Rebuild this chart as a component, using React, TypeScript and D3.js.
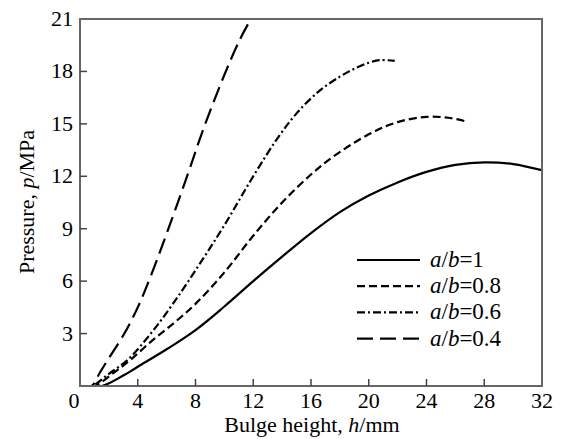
import React, { useEffect, useRef } from 'react';
import * as d3 from 'd3';

// Bulge height h (mm) and pressure p (MPa)
const h1 = [0, 1.5, 3, 4, 6, 8, 10, 12, 14, 16, 18, 20, 22, 24, 26, 28, 30, 32];
const p1 = [0, 0, 0.6, 1.1, 2.1, 3.2, 4.55, 6.0, 7.4, 8.75, 9.95, 10.9, 11.65, 12.25, 12.65, 12.8, 12.7, 12.35];

const h08 = [0, 1, 2.4, 3.5, 5, 6.5, 8, 10, 12, 14, 16, 17.5, 20, 22, 24, 25.5, 26.7];
const p08 = [0, 0, 0.8, 1.5, 2.6, 3.6, 4.7, 6.5, 8.6, 10.5, 12.1, 13.1, 14.4, 15.1, 15.4, 15.35, 15.15];

const h06 = [0, 0.8, 2, 3.3, 5, 6.6, 8.3, 10, 12, 13.7, 15, 16.6, 18, 19, 20, 20.8, 21.8];
const p06 = [0, 0, 0.7, 1.5, 3.1, 4.9, 7.0, 9.2, 12.0, 14.2, 15.6, 16.9, 17.7, 18.15, 18.5, 18.65, 18.6];

const h04 = [0, 0.8, 1.4, 2, 3, 4, 5, 6.3, 7.5, 8.5, 9.9, 11, 11.7];
const p04 = [0, 0, 0.8, 1.6, 2.9, 4.5, 6.5, 9.4, 12.2, 14.6, 17.6, 19.7, 20.8];

const seriesNames = ['a/b=1', 'a/b=0.8', 'a/b=0.6', 'a/b=0.4'];
const xTicks = [0, 4, 8, 12, 16, 20, 24, 28, 32];
const yTicks = [3, 6, 9, 12, 15, 18, 21];

const App = () => {
  const ref = useRef<SVGSVGElement | null>(null);

  useEffect(() => {
    if (!ref.current) return;
    const width = 563;
    const height = 439;
    const margin = { top: 19, right: 21, bottom: 53, left: 80 };
    const innerW = width - margin.left - margin.right;
    const innerH = height - margin.top - margin.bottom;

    const root = d3.select(ref.current);
    root.selectAll('*').remove();
    root.attr('width', width).attr('height', height);

    root.append('defs').append('clipPath').attr('id', 'plot-clip')
      .append('rect').attr('width', innerW).attr('height', innerH);

    const g = root.append('g').attr('transform', `translate(${margin.left},${margin.top})`);
    const font = 'Liberation Serif, Times New Roman, serif';

    const x = d3.scaleLinear().domain([0, 32]).range([0, innerW]);
    const y = d3.scaleLinear().domain([0, 21]).range([innerH, 0]);

    const series = [
      { name: seriesNames[0], h: h1, p: p1, dash: null },
      { name: seriesNames[1], h: h08, p: p08, dash: '8,4' },
      { name: seriesNames[2], h: h06, p: p06, dash: '8,3,2,3' },
      { name: seriesNames[3], h: h04, p: p04, dash: '16,7' },
    ];

    const line = d3.line<[number, number]>()
      .x(d => x(d[0]))
      .y(d => y(d[1]))
      .curve(d3.curveCatmullRom.alpha(0.5));

    const curves = g.append('g').attr('clip-path', 'url(#plot-clip)');
    series.forEach(s => {
      const pts = s.h.map((v, i) => [v, s.p[i]] as [number, number]);
      curves.append('path')
        .attr('d', line(pts))
        .attr('fill', 'none')
        .attr('stroke', '#000')
        .attr('stroke-width', 2.2)
        .attr('stroke-dasharray', s.dash);
    });

    // frame
    g.append('rect')
      .attr('width', innerW)
      .attr('height', innerH)
      .attr('fill', 'none')
      .attr('stroke', '#666')
      .attr('stroke-width', 2);

    // inward ticks
    xTicks.slice(1, -1).forEach(t => {
      g.append('line')
        .attr('x1', x(t)).attr('x2', x(t))
        .attr('y1', innerH).attr('y2', innerH - 7)
        .attr('stroke', '#444').attr('stroke-width', 1.5);
    });
    yTicks.slice(0, -1).forEach(t => {
      g.append('line')
        .attr('x1', 0).attr('x2', 7)
        .attr('y1', y(t)).attr('y2', y(t))
        .attr('stroke', '#444').attr('stroke-width', 1.5);
    });

    // tick labels
    xTicks.forEach(t => {
      g.append('text')
        .attr('x', x(t) + (t === 0 ? -6 : 0))
        .attr('y', innerH + 22)
        .attr('text-anchor', 'middle')
        .attr('font-family', font)
        .attr('font-size', 22)
        .text(t);
    });
    yTicks.forEach(t => {
      g.append('text')
        .attr('x', -7)
        .attr('y', y(t) + 7)
        .attr('text-anchor', 'end')
        .attr('font-family', font)
        .attr('font-size', 22)
        .text(t);
    });

    // axis titles
    const xt = root.append('text')
      .attr('x', 312)
      .attr('y', 432)
      .attr('text-anchor', 'middle')
      .attr('font-family', font)
      .attr('font-size', 22);
    xt.append('tspan').text('Bulge height, ');
    xt.append('tspan').attr('font-style', 'italic').text('h');
    xt.append('tspan').text('/mm');

    const yt = root.append('text')
      .attr('transform', `translate(34,202) rotate(-90)`)
      .attr('text-anchor', 'middle')
      .attr('font-family', font)
      .attr('font-size', 22);
    yt.append('tspan').text('Pressure, ');
    yt.append('tspan').attr('font-style', 'italic').text('p');
    yt.append('tspan').text('/MPa');

    // legend
    const legend = root.append('g');
    series.forEach((s, i) => {
      const ly = 260 + i * 26.2;
      legend.append('line')
        .attr('x1', 357).attr('x2', 420)
        .attr('y1', ly).attr('y2', ly)
        .attr('stroke', '#000')
        .attr('stroke-width', 2.2)
        .attr('stroke-dasharray', s.dash);
      const txt = legend.append('text')
        .attr('x', 430)
        .attr('y', ly + 7)
        .attr('font-family', font)
        .attr('font-size', 23);
      const [lhs, rhs] = s.name.split('=');
      const [a, b] = lhs.split('/');
      txt.append('tspan').attr('font-style', 'italic').text(a);
      txt.append('tspan').text('/');
      txt.append('tspan').attr('font-style', 'italic').text(b);
      txt.append('tspan').text('=' + rhs);
    });
  }, []);

  return <svg ref={ref} style={{ display: 'block', margin: '-8px 0 0 -8px' }} />;
};

export default App;
